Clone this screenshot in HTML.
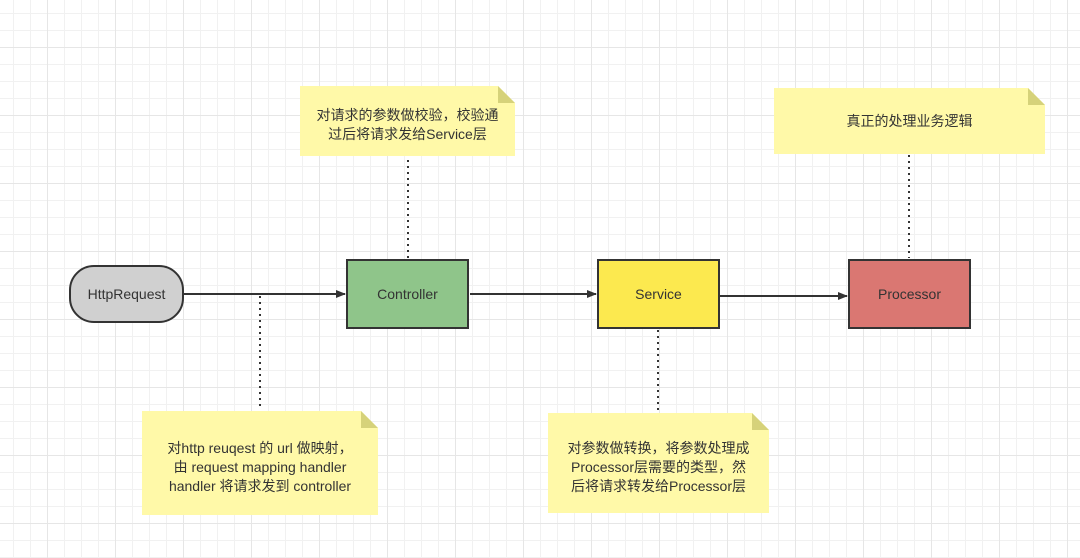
<!DOCTYPE html>
<html><head><meta charset="utf-8"><style>
html,body{margin:0;padding:0}
body{width:1080px;height:558px;position:relative;overflow:hidden;background:#fff;
background-image:
linear-gradient(#e6e6e6 1px,transparent 1px),linear-gradient(90deg,#e6e6e6 1px,transparent 1px),
linear-gradient(#f1f1f1 1px,transparent 1px),linear-gradient(90deg,#f1f1f1 1px,transparent 1px);
background-size:68px 68px,68px 68px,17px 17px,17px 17px;
background-position:0 47px,47px 0,0 13px,13px 0;
font-family:"Liberation Sans","Noto Sans CJK SC",sans-serif;color:#333}
svg{position:absolute;left:0;top:0}
.t{position:absolute;font-size:14px;line-height:19px;text-align:center;display:flex;align-items:center;justify-content:center}
</style></head><body>
<svg width="1080" height="558">
<defs><marker id="a" markerWidth="10" markerHeight="8" refX="9" refY="4" orient="auto" markerUnits="userSpaceOnUse"><path d="M0,0L10,4L0,8z" fill="#333"/></marker></defs>
<g stroke="#333" stroke-width="2" stroke-dasharray="2,4" fill="none">
<line x1="260" y1="296" x2="260" y2="410"/>
<line x1="408" y1="160" x2="408" y2="258"/>
<line x1="658" y1="330" x2="658" y2="412"/>
<line x1="909" y1="155" x2="909" y2="258"/>
</g>
<g stroke="#333" stroke-width="2" fill="none" marker-end="url(#a)">
<line x1="184" y1="294" x2="345" y2="294"/>
<line x1="470" y1="294" x2="596" y2="294"/>
<line x1="720" y1="296" x2="847" y2="296"/>
</g>
<rect x="70" y="266" width="113" height="56" rx="24" fill="#d0d0d0" stroke="#333" stroke-width="2"/>
<rect x="347" y="260" width="121" height="68" fill="#8fc58a" stroke="#333" stroke-width="2"/>
<rect x="598" y="260" width="121" height="68" fill="#fce94f" stroke="#333" stroke-width="2"/>
<rect x="849" y="260" width="121" height="68" fill="#da7772" stroke="#333" stroke-width="2"/>
<g fill="#fff9a8">
<path d="M300,86H498L515,103V156H300z"/>
<path d="M774,88H1028L1045,105V154H774z"/>
<path d="M142,411H361L378,428V515H142z"/>
<path d="M548,413H752L769,430V513H548z"/>
</g>
<g fill="#d6d27a">
<path d="M498,86L515,103H498z"/>
<path d="M1028,88L1045,105H1028z"/>
<path d="M361,411L378,428H361z"/>
<path d="M752,413L769,430H752z"/>
</g>
</svg>
<div class="t" style="left:70px;top:266px;width:113px;height:56px">HttpRequest</div>
<div class="t" style="left:347px;top:260px;width:121px;height:68px">Controller</div>
<div class="t" style="left:598px;top:260px;width:121px;height:68px">Service</div>
<div class="t" style="left:849px;top:260px;width:121px;height:68px">Processor</div>
<div class="t" style="left:300px;top:94px;width:215px;height:62px">对请求的参数做校验，校验通<br>过后将请求发给Service层</div>
<div class="t" style="left:774px;top:88px;width:271px;height:66px">真正的处理业务逻辑</div>
<div class="t" style="left:142px;top:420px;width:236px;height:95px">对http reuqest 的 url 做映射，<br>由 request mapping handler<br>handler 将请求发到 controller</div>
<div class="t" style="left:548px;top:421px;width:221px;height:92px">对参数做转换，将参数处理成<br>Processor层需要的类型，然<br>后将请求转发给Processor层</div>
</body></html>
